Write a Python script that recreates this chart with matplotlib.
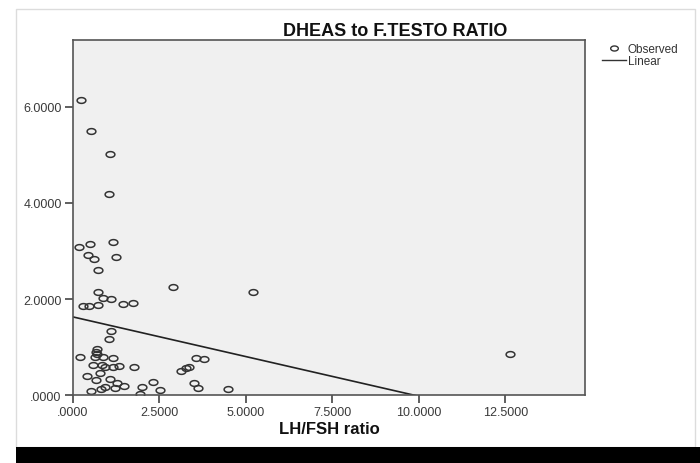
import numpy as np
from matplotlib import pyplot as plt
from matplotlib.patches import Rectangle
from matplotlib.path import Path
from matplotlib.lines import Line2D

plt.rcParams['font.family'] = ['Liberation Sans', 'DejaVu Sans']

# LH/FSH ratio (x) and DHEAS / F.TESTO ratio (y)
lh_fsh = [0.23, 0.54, 1.08, 1.06,
          0.18, 0.49, 1.17, 0.45, 0.62, 1.24, 0.73, 2.90, 5.22, 0.72, 0.88, 1.10,
          0.29, 0.48, 0.72, 1.45, 1.73, 1.11, 1.06,
          0.71, 0.67, 0.69, 0.21, 0.63, 0.88, 1.17, 0.58, 0.84, 0.92, 1.16, 1.35,
          1.78, 0.79, 0.42, 0.67, 1.08, 1.27, 1.48, 0.93, 0.81, 1.23, 0.52, 1.99,
          1.95, 2.33, 2.52, 3.57, 3.80, 3.12, 3.28, 3.35, 3.49, 3.63, 4.50, 12.62]
dheas_testo = [6.14, 5.49, 5.02, 4.18,
               3.08, 3.15, 3.18, 2.92, 2.83, 2.87, 2.60, 2.26, 2.15, 2.15, 2.03, 2.01,
               1.85, 1.85, 1.88, 1.89, 1.92, 1.34, 1.17,
               0.96, 0.89, 0.86, 0.80, 0.79, 0.79, 0.78, 0.64, 0.62, 0.58, 0.58, 0.60,
               0.58, 0.46, 0.41, 0.32, 0.34, 0.25, 0.20, 0.17, 0.13, 0.15, 0.08, 0.17,
               0.03, 0.28, 0.12, 0.77, 0.75, 0.51, 0.56, 0.58, 0.25, 0.15, 0.13, 0.86]

# linear fit as shown
fit_intercept = 1.63
fit_slope = -0.165

x_ticks = [0, 2.5, 5, 7.5, 10, 12.5]
x_labels = ['.0000', '2.5000', '5.0000', '7.5000', '10.0000', '12.5000']
y_ticks = [0, 2, 4, 6]
y_labels = ['.0000', '2.0000', '4.0000', '6.0000']

# flat circle marker like SPSS
t = np.linspace(0, 2 * np.pi, 40)
ellipse = Path(np.column_stack([np.cos(t), 0.66 * np.sin(t)]), closed=True)

fig = plt.figure(figsize=(7, 4.64), dpi=100)
W, H = 700, 464

# light frame and black band at the bottom
fig.patches.append(Rectangle((16 / W, 1 - 448 / H), 679 / W, 438 / H, transform=fig.transFigure,
                             fill=False, edgecolor='#dcdcdc', linewidth=1))
fig.patches.append(Rectangle((16 / W, 0), 684 / W, 16 / H, transform=fig.transFigure,
                             facecolor='black', edgecolor='none'))

ax = fig.add_axes([72.7 / W, 1 - 396.3 / H, 512.3 / W, 355.6 / H])
ax.set_facecolor('#f0f0f0')

ax.plot(lh_fsh, dheas_testo, linestyle='none', marker=ellipse, markersize=6.3,
        markerfacecolor='none', markeredgecolor='#333333', markeredgewidth=1.1)

xs = np.array([0, max(lh_fsh)])
ax.plot(xs, fit_intercept + fit_slope * xs, color='#222222', linewidth=1.2)

ax.set_xlim(0, 14.8)
ax.set_ylim(0, 7.39)
ax.set_xticks(x_ticks)
ax.set_xticklabels(x_labels)
ax.set_yticks(y_ticks)
ax.set_yticklabels(y_labels)
ax.tick_params(direction='out', length=6, width=1.2, color='#444444',
               labelsize=9, labelcolor='#3a3a3a', pad=2)
for s in ax.spines.values():
    s.set_color('#555555')
    s.set_linewidth(1.2)

fig.text(395 / W, 1 - 31 / H, 'DHEAS to F.TESTO RATIO', ha='center', va='center',
         fontsize=13, fontweight='bold', color='#111111')
fig.text(329 / W, 1 - 430 / H, 'LH/FSH ratio', ha='center', va='center',
         fontsize=12, fontweight='bold', color='#111111')

handles = [Line2D([], [], linestyle='none', marker=ellipse, markersize=5.5,
                  markerfacecolor='none', markeredgecolor='#333333', markeredgewidth=1),
           Line2D([], [], color='#333333', linewidth=1)]
fig.legend(handles, ['Observed', 'Linear'], loc='upper left',
           bbox_to_anchor=(596 / W, 1 - 38 / H), frameon=False, fontsize=8.5,
           handlelength=2.0, handletextpad=0.2, labelspacing=0.0, borderpad=0,
           labelcolor='#333333')

fig.savefig('out.png', dpi=100)
